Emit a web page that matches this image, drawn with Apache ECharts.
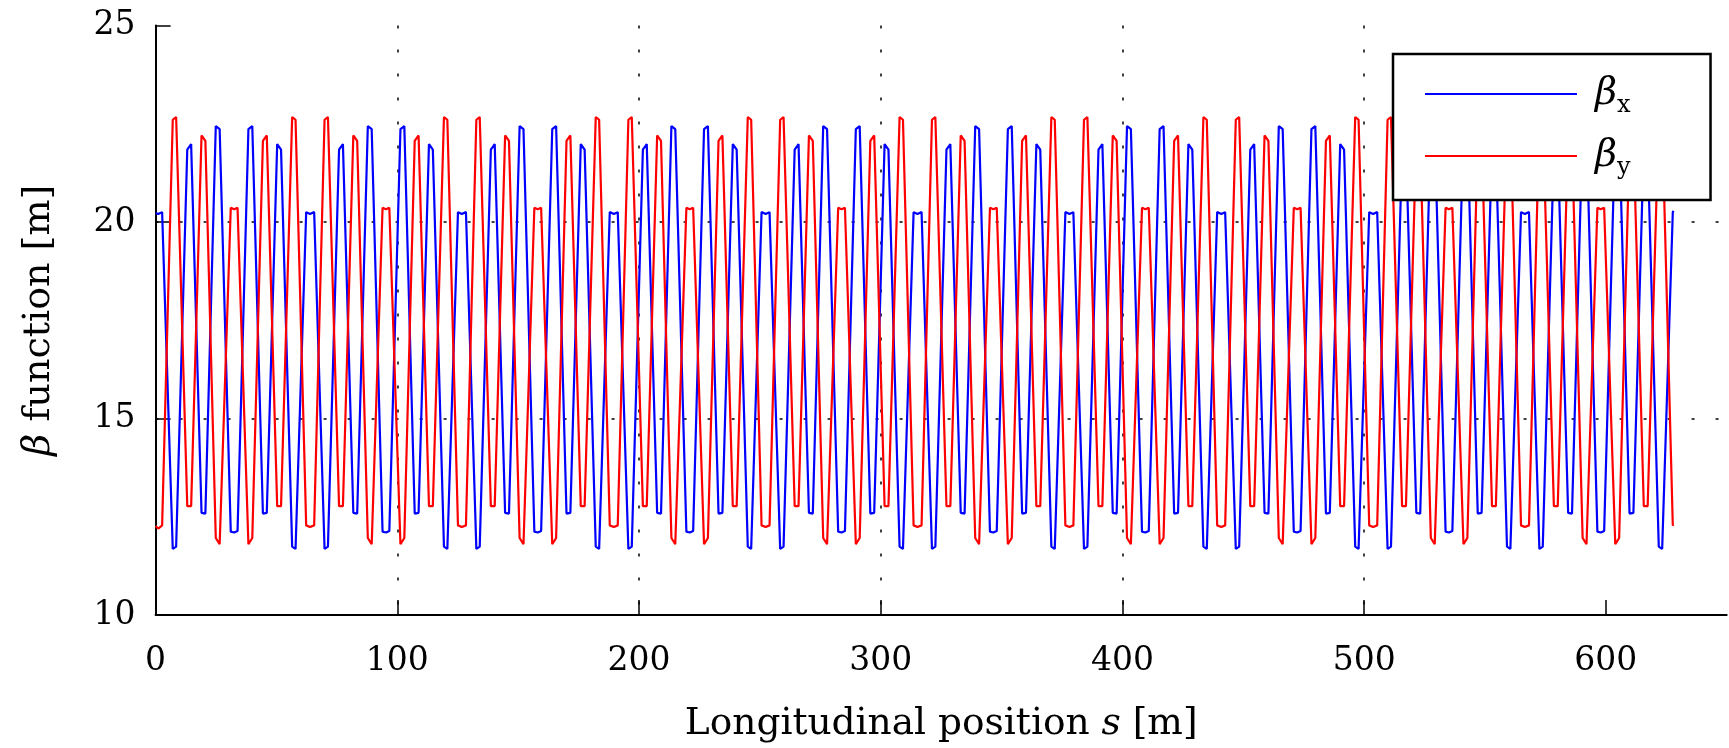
<!DOCTYPE html>
<html>
<head>
<meta charset="utf-8">
<script src="https://cdn.jsdelivr.net/npm/echarts@6/dist/echarts.min.js"></script>
<style>
html,body{margin:0;padding:0;background:#fff;}
#chart{width:1729px;height:748px;}
</style>
</head>
<body>
<div id="chart"></div>
<script>
// Longitudinal position s [m] (vertices)
var s = [
0, 1.1, 2.7, 7.1, 8.5, 13.1, 14.7, 19.0, 20.6, 24.9, 26.5, 31.1, 32.5, 33.9, 38.4, 40.0, 44.4, 46.0, 50.3, 51.9, 56.5, 57.9,
62.3, 63.9, 65.6, 69.9, 71.3, 75.9, 77.5, 81.8, 83.4, 87.8, 89.4, 93.9, 95.3, 96.7, 101.3, 102.9, 107.2, 108.8, 113.1, 114.7, 119.3, 120.7,
125.1, 126.7, 128.4, 132.7, 134.1, 138.7, 140.3, 144.6, 146.2, 150.6, 152.2, 156.7, 158.1, 159.5, 164.1, 165.7, 170.0, 171.6, 175.9, 177.5, 182.1, 183.5,
187.9, 189.6, 191.2, 195.6, 197.0, 201.6, 203.2, 207.5, 209.1, 213.4, 215.0, 219.6, 221.0, 222.4, 226.9, 228.5, 232.9, 234.5, 238.8, 240.4, 245.0, 246.4,
250.7, 252.4, 254.0, 258.4, 259.8, 264.4, 266.0, 270.3, 271.9, 276.2, 277.8, 282.4, 283.8, 285.2, 289.7, 291.3, 295.7, 297.3, 301.6, 303.2, 307.8, 309.2,
313.6, 315.2, 316.9, 321.2, 322.6, 327.2, 328.8, 333.1, 334.7, 339.1, 340.7, 345.2, 346.6, 348.0, 352.6, 354.2, 358.5, 360.1, 364.4, 366.0, 370.6, 372.0,
376.4, 378.1, 379.7, 384.1, 385.5, 390.1, 391.7, 396.0, 397.6, 401.9, 403.5, 408.1, 409.5, 410.9, 415.4, 417.0, 421.4, 423.0, 427.3, 428.9, 433.5, 434.9,
439.2, 440.9, 442.5, 446.9, 448.3, 452.9, 454.5, 458.8, 460.4, 464.7, 466.3, 470.9, 472.3, 473.7, 478.2, 479.8, 484.2, 485.8, 490.1, 491.7, 496.3, 497.7,
502.1, 503.7, 505.4, 509.7, 511.1, 515.7, 517.3, 521.6, 523.2, 527.6, 529.2, 533.7, 535.1, 536.5, 541.1, 542.7, 547.0, 548.6, 552.9, 554.5, 559.1, 560.5,
564.9, 566.5, 568.2, 572.5, 573.9, 578.5, 580.1, 584.4, 586.0, 590.4, 592.0, 596.5, 597.9, 599.3, 603.9, 605.5, 609.8, 611.4, 615.7, 617.3, 621.9, 623.3,
627.7, 628.0
];

// beta_x [m]
var betaX = [
20.23, 20.2, 20.25, 11.68, 11.74, 21.84, 21.98, 12.6, 12.58, 22.44, 22.36, 12.12, 12.1, 12.14, 22.36, 22.44, 12.58, 12.6, 21.98, 21.84, 11.74, 11.68,
20.25, 20.2, 20.25, 11.68, 11.74, 21.84, 21.98, 12.6, 12.58, 22.44, 22.36, 12.12, 12.1, 12.14, 22.36, 22.44, 12.58, 12.6, 21.98, 21.84, 11.74, 11.68,
20.25, 20.2, 20.25, 11.68, 11.74, 21.84, 21.98, 12.6, 12.58, 22.44, 22.36, 12.12, 12.1, 12.14, 22.36, 22.44, 12.58, 12.6, 21.98, 21.84, 11.74, 11.68,
20.25, 20.2, 20.25, 11.68, 11.74, 21.84, 21.98, 12.6, 12.58, 22.44, 22.36, 12.12, 12.1, 12.14, 22.36, 22.44, 12.58, 12.6, 21.98, 21.84, 11.74, 11.68,
20.25, 20.2, 20.25, 11.68, 11.74, 21.84, 21.98, 12.6, 12.58, 22.44, 22.36, 12.12, 12.1, 12.14, 22.36, 22.44, 12.58, 12.6, 21.98, 21.84, 11.74, 11.68,
20.25, 20.2, 20.25, 11.68, 11.74, 21.84, 21.98, 12.6, 12.58, 22.44, 22.36, 12.12, 12.1, 12.14, 22.36, 22.44, 12.58, 12.6, 21.98, 21.84, 11.74, 11.68,
20.25, 20.2, 20.25, 11.68, 11.74, 21.84, 21.98, 12.6, 12.58, 22.44, 22.36, 12.12, 12.1, 12.14, 22.36, 22.44, 12.58, 12.6, 21.98, 21.84, 11.74, 11.68,
20.25, 20.2, 20.25, 11.68, 11.74, 21.84, 21.98, 12.6, 12.58, 22.44, 22.36, 12.12, 12.1, 12.14, 22.36, 22.44, 12.58, 12.6, 21.98, 21.84, 11.74, 11.68,
20.25, 20.2, 20.25, 11.68, 11.74, 21.84, 21.98, 12.6, 12.58, 22.44, 22.36, 12.12, 12.1, 12.14, 22.36, 22.44, 12.58, 12.6, 21.98, 21.84, 11.74, 11.68,
20.25, 20.2, 20.25, 11.68, 11.74, 21.84, 21.98, 12.6, 12.58, 22.44, 22.36, 12.12, 12.1, 12.14, 22.36, 22.44, 12.58, 12.6, 21.98, 21.84, 11.74, 11.68,
20.25, 20.28
];

// beta_y [m]
var betaY = [
12.26, 12.2, 12.28, 22.6, 22.67, 12.77, 12.77, 22.2, 22.06, 11.96, 11.8, 20.36, 20.32, 20.36, 11.8, 11.96, 22.06, 22.2, 12.77, 12.77, 22.67, 22.6,
12.28, 12.24, 12.28, 22.6, 22.67, 12.77, 12.77, 22.2, 22.06, 11.96, 11.8, 20.36, 20.32, 20.36, 11.8, 11.96, 22.06, 22.2, 12.77, 12.77, 22.67, 22.6,
12.28, 12.24, 12.28, 22.6, 22.67, 12.77, 12.77, 22.2, 22.06, 11.96, 11.8, 20.36, 20.32, 20.36, 11.8, 11.96, 22.06, 22.2, 12.77, 12.77, 22.67, 22.6,
12.28, 12.24, 12.28, 22.6, 22.67, 12.77, 12.77, 22.2, 22.06, 11.96, 11.8, 20.36, 20.32, 20.36, 11.8, 11.96, 22.06, 22.2, 12.77, 12.77, 22.67, 22.6,
12.28, 12.24, 12.28, 22.6, 22.67, 12.77, 12.77, 22.2, 22.06, 11.96, 11.8, 20.36, 20.32, 20.36, 11.8, 11.96, 22.06, 22.2, 12.77, 12.77, 22.67, 22.6,
12.28, 12.24, 12.28, 22.6, 22.67, 12.77, 12.77, 22.2, 22.06, 11.96, 11.8, 20.36, 20.32, 20.36, 11.8, 11.96, 22.06, 22.2, 12.77, 12.77, 22.67, 22.6,
12.28, 12.24, 12.28, 22.6, 22.67, 12.77, 12.77, 22.2, 22.06, 11.96, 11.8, 20.36, 20.32, 20.36, 11.8, 11.96, 22.06, 22.2, 12.77, 12.77, 22.67, 22.6,
12.28, 12.24, 12.28, 22.6, 22.67, 12.77, 12.77, 22.2, 22.06, 11.96, 11.8, 20.36, 20.32, 20.36, 11.8, 11.96, 22.06, 22.2, 12.77, 12.77, 22.67, 22.6,
12.28, 12.24, 12.28, 22.6, 22.67, 12.77, 12.77, 22.2, 22.06, 11.96, 11.8, 20.36, 20.32, 20.36, 11.8, 11.96, 22.06, 22.2, 12.77, 12.77, 22.67, 22.6,
12.28, 12.24, 12.28, 22.6, 22.67, 12.77, 12.77, 22.2, 22.06, 11.96, 11.8, 20.36, 20.32, 20.36, 11.8, 11.96, 22.06, 22.2, 12.77, 12.77, 22.67, 22.6,
12.28, 12.3
];

var xTicks = [0, 100, 200, 300, 400, 500, 600];
var yTicks = [10, 15, 20, 25];
var seriesNames = ['βx', 'βy'];

var FONT = 'DejaVu Serif';

function pairs(xs, ys) {
  var out = [];
  for (var i = 0; i < xs.length; i++) out.push([xs[i], ys[i]]);
  return out;
}

var chart = echarts.init(document.getElementById('chart'), null, {renderer: 'canvas'});

var gridLine = {show: true, showMinLine: false, showMaxLine: false,
  lineStyle: {color: '#000', width: 1.5, type: [3, 21]}};

chart.setOption({
  animation: false,
  backgroundColor: '#fff',
  grid: {left: 155.6, right: 2.3, top: 25.4, bottom: 129.4, containLabel: false},
  xAxis: {
    type: 'value', min: 0, max: 650, interval: 100,
    axisLine: {show: true, onZero: false, lineStyle: {color: '#000', width: 2}},
    axisTick: {show: true, inside: true, length: 15, lineStyle: {color: '#000', width: 1.5}, customValues: xTicks},
    axisLabel: {show: true, margin: 30, color: '#000', fontFamily: FONT, fontSize: 33, customValues: xTicks},
    splitLine: gridLine,
    name: '{n|Longitudinal position }{i|s}{n| [m]}',
    nameLocation: 'middle', nameGap: 90,
    nameTextStyle: {color: '#000', fontFamily: FONT, fontSize: 37.5,
      rich: {n: {fontFamily: FONT, fontSize: 37.5, color: '#000'},
             i: {fontFamily: FONT, fontSize: 37.5, fontStyle: 'italic', color: '#000'}}}
  },
  yAxis: {
    type: 'value', min: 10, max: 25, interval: 5,
    axisLine: {show: true, onZero: false, lineStyle: {color: '#000', width: 2}},
    axisTick: {show: true, inside: true, length: 15, lineStyle: {color: '#000', width: 1.5}, customValues: yTicks},
    axisLabel: {show: true, margin: 20, color: '#000', fontFamily: FONT, fontSize: 33, customValues: yTicks},
    splitLine: gridLine,
    name: '{i|β}{n| function [m]}',
    nameLocation: 'middle', nameGap: 97, nameRotate: 90,
    nameTextStyle: {color: '#000', fontFamily: FONT, fontSize: 38,
      rich: {n: {fontFamily: FONT, fontSize: 38, color: '#000'},
             i: {fontFamily: FONT, fontSize: 38, fontStyle: 'italic', color: '#000'}}}
  },
  legend: {
    show: true, orient: 'vertical', left: 1393, top: 54,
    padding: [21, 80, 20, 31],
    itemWidth: 152, itemHeight: 36, itemGap: 19,
    borderColor: '#000', borderWidth: 2.5, borderRadius: 0, backgroundColor: '#fff',
    itemStyle: {opacity: 0},
    data: seriesNames,
    formatter: function (name) {
      return name === 'βx' ? '{b|β}{s|x}' : '{b|β}{s|y}';
    },
    textStyle: {
      color: '#000',
      rich: {
        b: {fontFamily: FONT, fontStyle: 'italic', fontSize: 38, lineHeight: 36, color: '#000', padding: [0, 0, 0, 13]},
        s: {fontFamily: FONT, fontSize: 24, lineHeight: 36, color: '#000', verticalAlign: 'bottom', padding: [0, 0, -6, 0]}
      }
    }
  },
  series: [
    {name: seriesNames[0], type: 'line', data: pairs(s, betaX), symbol: 'none', showSymbol: false,
     lineStyle: {color: '#0000ff', width: 2.2}, itemStyle: {color: '#0000ff'}, clip: true, silent: true},
    {name: seriesNames[1], type: 'line', data: pairs(s, betaY), symbol: 'none', showSymbol: false,
     lineStyle: {color: '#ff0000', width: 2.2}, itemStyle: {color: '#ff0000'}, clip: true, silent: true}
  ]
});
</script>
</body>
</html>
